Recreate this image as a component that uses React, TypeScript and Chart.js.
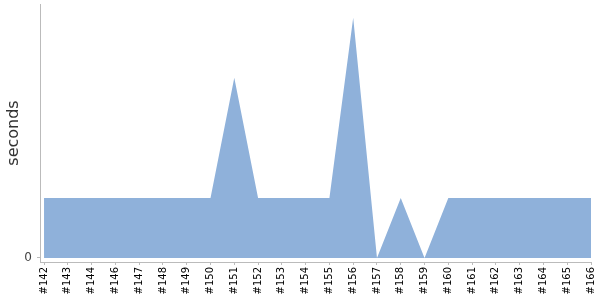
import React, { useEffect, useRef } from "react";
import { Chart, registerables } from "chart.js";

Chart.register(...registerables);

const builds = ["#142","#143","#144","#146","#147","#148","#149","#150","#151","#152","#153","#154","#155","#156","#157","#158","#159","#160","#161","#162","#163","#164","#165","#166"];
const seconds = [1,1,1,1,1,1,1,1,3,1,1,1,1,4,0,1,0,1,1,1,1,1,1,1];
const yTickValues = [0];

export default function App() {
  const ref = useRef<HTMLCanvasElement>(null);
  useEffect(() => {
    if (!ref.current) return;
    const chart = new Chart(ref.current, {
      type: "line",
      data: {
        datasets: [
          {
            data: seconds.map((v, i) => ({ x: i, y: v })),
            fill: "origin",
            backgroundColor: "#8fb1da",
            borderWidth: 0,
            pointRadius: 0,
            tension: 0,
          },
        ],
      },
      options: {
        animation: false,
        responsive: false,
        layout: { padding: { top: 4, right: 9, left: 0, bottom: 0 } },
        plugins: { legend: { display: false }, tooltip: { enabled: false } },
        scales: {
          x: {
            type: "linear",
            min: -0.17,
            max: builds.length - 1,
            afterBuildTicks: (s: any) => {
              s.ticks = builds.map((_, i) => ({ value: i }));
            },
            afterFit: (s: any) => {
              s.height = 38;
              s.paddingLeft = 0;
              s.paddingRight = 0;
            },
            grid: { display: true, drawOnChartArea: false, tickLength: 3, color: "#bbb" },
            border: { display: true, color: "#bbb" },
            ticks: {
              autoSkip: false,
              minRotation: 90,
              maxRotation: 90,
              padding: 2,
              color: "#000",
              font: { family: "DejaVu Sans", size: 10 },
              callback: (v: any) => builds[Math.round(Number(v))] ?? "",
            },
          },
          y: {
            type: "linear",
            min: -0.067,
            max: 4.23,
            afterBuildTicks: (s: any) => {
              s.ticks = yTickValues.map((v) => ({ value: v }));
            },
            afterFit: (s: any) => {
              s.width = 40;
              s.paddingTop = 0;
              s.paddingBottom = 0;
            },
            grid: { display: true, drawOnChartArea: false, tickLength: 3, color: "#bbb" },
            border: { display: true, color: "#bbb" },
            ticks: {
              color: "#444",
              padding: 5,
              font: { family: "DejaVu Sans", size: 12 },
            },
            title: {
              display: true,
              text: "seconds",
              color: "#333",
              padding: { top: 4, bottom: 0 },
              font: { family: "DejaVu Sans", size: 16 },
            },
          },
        },
      },
    });
    return () => chart.destroy();
  }, []);
  return (
    <div style={{ position: "absolute", left: 0, top: 0, width: 600, height: 300 }}>
      <canvas ref={ref} width={600} height={300} />
    </div>
  );
}
